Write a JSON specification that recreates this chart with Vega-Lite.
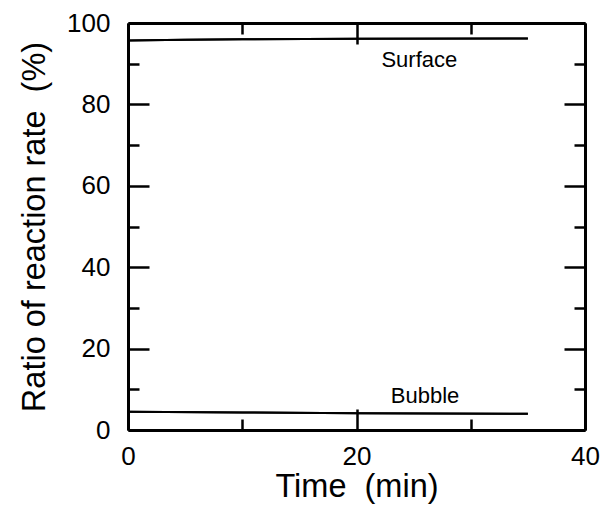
{
  "$schema": "https://vega.github.io/schema/vega-lite/v6.json",
  "width": 457,
  "height": 407,
  "autosize": "none",
  "padding": {"left": 128, "top": 23, "right": 26, "bottom": 76},
  "background": "white",
  "config": {
    "view": {"stroke": null},
    "font": "Liberation Sans",
    "axis": {
      "domainColor": "black",
      "domainWidth": 3,
      "tickColor": "black",
      "tickWidth": 2.5,
      "grid": false,
      "labelFont": "Liberation Sans",
      "labelFontSize": 26,
      "labelColor": "black",
      "titleFont": "Liberation Sans",
      "titleFontSize": 32.5,
      "titleFontWeight": "normal",
      "titleColor": "black"
    }
  },
  "datasets": {
    "rates": [
      {"time": 0, "ratio": 95.7, "site": "Surface"},
      {"time": 5, "ratio": 95.9, "site": "Surface"},
      {"time": 10, "ratio": 96.0, "site": "Surface"},
      {"time": 20, "ratio": 96.1, "site": "Surface"},
      {"time": 35, "ratio": 96.2, "site": "Surface"},
      {"time": 0, "ratio": 4.5, "site": "Bubble"},
      {"time": 10, "ratio": 4.3, "site": "Bubble"},
      {"time": 20, "ratio": 4.1, "site": "Bubble"},
      {"time": 35, "ratio": 4.0, "site": "Bubble"}
    ],
    "labels": [
      {"time": 25.5, "ratio": 89.3, "text": "Surface"},
      {"time": 26, "ratio": 6.6, "text": "Bubble"}
    ]
  },
  "layer": [
    {
      "data": {"name": "rates"},
      "mark": {"type": "line", "color": "black", "strokeWidth": 2},
      "encoding": {
        "x": {
          "field": "time", "type": "quantitative",
          "scale": {"domain": [0, 40], "nice": false, "zero": false},
          "axis": {
            "orient": "bottom",
            "title": "Time\u00a0 (min)",
            "values": [0, 10, 20, 30, 40],
            "tickSize": {"condition": {"test": "datum.value % 20 === 0", "value": -21}, "value": -11},
            "labelExpr": "datum.value % 20 === 0 ? datum.label : ''",
            "labelPadding": 34,
            "labelFlush": false,
            "titlePadding": 1
          }
        },
        "y": {
          "field": "ratio", "type": "quantitative",
          "scale": {"domain": [0, 100], "nice": false, "zero": false},
          "axis": {
            "orient": "left",
            "title": "Ratio of reaction rate\u00a0 (%)",
            "values": [0, 10, 20, 30, 40, 50, 60, 70, 80, 90, 100],
            "tickSize": {"condition": {"test": "datum.value % 20 === 0", "value": -21}, "value": -11},
            "labelExpr": "datum.value % 20 === 0 ? datum.label : ''",
            "labelPadding": 39,
            "labelFlush": false,
            "titlePadding": 15
          }
        },
        "detail": {"field": "site"}
      }
    },
    {
      "data": {"name": "rates"},
      "mark": {"type": "line", "color": "black", "strokeWidth": 2},
      "encoding": {
        "x": {
          "field": "time", "type": "quantitative",
          "axis": {
            "orient": "top",
            "title": null,
            "labels": false,
            "values": [0, 10, 20, 30, 40],
            "tickSize": {"condition": {"test": "datum.value % 20 === 0", "value": -21}, "value": -11}
          }
        },
        "y": {
          "field": "ratio", "type": "quantitative",
          "axis": {
            "orient": "right",
            "title": null,
            "labels": false,
            "values": [0, 10, 20, 30, 40, 50, 60, 70, 80, 90, 100],
            "tickSize": {"condition": {"test": "datum.value % 20 === 0", "value": -21}, "value": -11}
          }
        },
        "detail": {"field": "site"}
      }
    },
    {
      "data": {"name": "labels"},
      "mark": {"type": "text", "font": "Liberation Sans", "fontSize": 22, "color": "black", "align": "center", "baseline": "alphabetic"},
      "encoding": {
        "x": {"field": "time", "type": "quantitative", "axis": null},
        "y": {"field": "ratio", "type": "quantitative", "axis": null},
        "text": {"field": "text"}
      }
    }
  ],
  "resolve": {"axis": {"x": "independent", "y": "independent"}}
}
